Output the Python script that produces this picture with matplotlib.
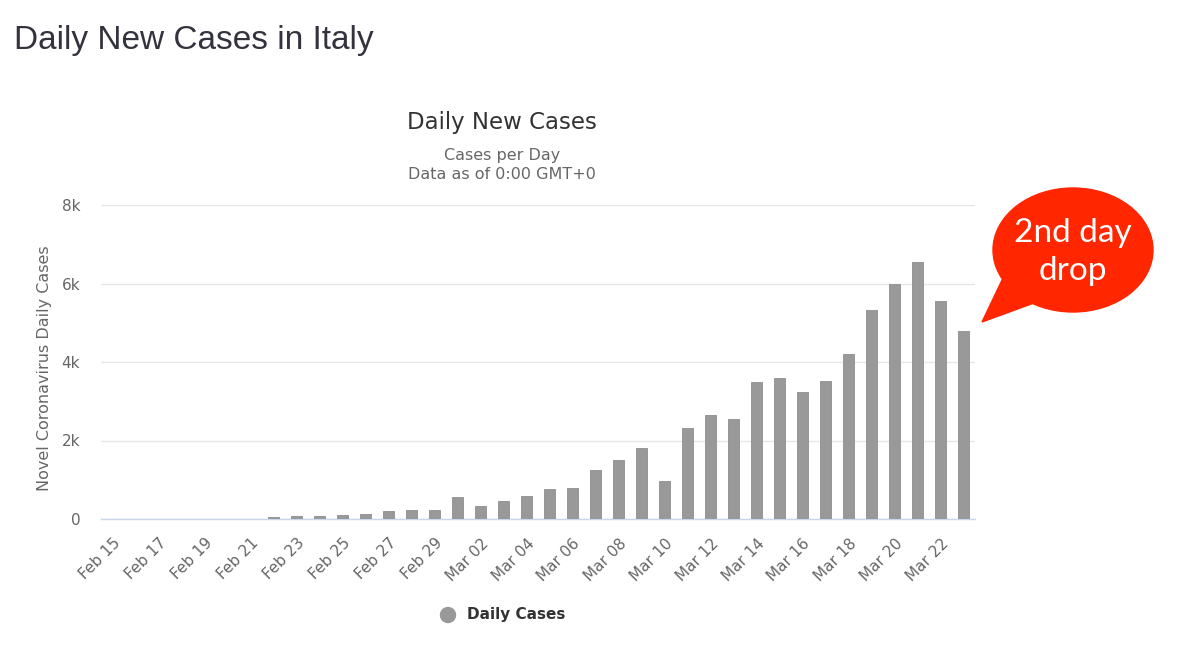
import matplotlib
matplotlib.use("Agg")
import matplotlib.pyplot as plt
import matplotlib.patches as mpatches
import numpy as np
import datetime as dt

# ---- data ----
start = dt.date(2020, 2, 15)
daily_cases = [0, 0, 0, 0, 0, 0, 0,          # Feb 15 - Feb 21
               59, 71, 79, 93, 131, 202, 233, 240,   # Feb 22 - Feb 29
               566, 342, 466, 587, 769, 778, 1247, 1492, 1797, 977,  # Mar 1 - Mar 10
               2313, 2651, 2547, 3497, 3590, 3233, 3526, 4207, 5322, 5986,  # Mar 11 - Mar 20
               6557, 5560, 4789]            # Mar 21 - Mar 23
dates = [start + dt.timedelta(days=i) for i in range(len(daily_cases))]
date_labels = [d.strftime("%b %d") for d in dates]
y_ticks = [0, 2000, 4000, 6000, 8000]
y_tick_labels = ["0", "2k", "4k", "6k", "8k"]

page_title = "Daily New Cases in Italy"
chart_title = "Daily New Cases"
subtitle = "Cases per Day\nData as of 0:00 GMT+0"
y_label = "Novel Coronavirus Daily Cases"
legend_label = "Daily Cases"
bubble_text = "2nd day\ndrop"

W, H = 1200, 645
fig = plt.figure(figsize=(W / 100, H / 100), dpi=100)
fig.patch.set_facecolor("white")

ax = fig.add_axes([101 / W, 1 - 519 / H, 874 / W, 314 / H])
x = np.arange(len(daily_cases))
ax.bar(x, daily_cases, width=0.45, color="#999999", edgecolor="#8e8e8e", linewidth=0.6, zorder=3)
ax.set_xlim(-0.5, len(daily_cases) - 0.5)
ax.set_ylim(0, 8000)
ax.set_yticks(y_ticks)
ax.set_yticklabels(y_tick_labels)
ax.grid(axis="y", color="#e6e6e6", linewidth=1, zorder=0)
for s in ["top", "right", "left"]:
    ax.spines[s].set_visible(False)
ax.spines["bottom"].set_color("#ccd6eb")
ax.spines["bottom"].set_linewidth(1)
ax.tick_params(axis="y", length=0, pad=15, labelsize=11, labelcolor="#666666")
ax.tick_params(axis="x", length=0, pad=12, labelsize=11, labelcolor="#666666")
ax.set_xticks(x[::2])
ax.set_xticklabels(date_labels[::2], rotation=45, ha="right", rotation_mode="anchor")
ax.set_ylabel(y_label, fontsize=11.5, color="#666666")
ax.yaxis.set_label_coords((52 - 101) / 874, 0.48)

# titles
fig.text(14 / W, 1 - 40 / H, page_title, fontsize=24, color="#33333d",
         family="Liberation Sans", va="center", ha="left")
fig.text(502 / W, 1 - 123 / H, chart_title, fontsize=16.5, color="#333333", ha="center", va="center")
fig.text(502 / W, 1 - 165 / H, subtitle, fontsize=11.5, color="#666666", ha="center", va="center",
         linespacing=1.3)

# legend
lax = fig.add_axes([0, 0, 1, 1], facecolor="none")
lax.set_xlim(0, W)
lax.set_ylim(H, 0)
lax.axis("off")
lax.add_patch(mpatches.Ellipse((448, 615), 15, 15, color="#999999"))
lax.text(467, 615, legend_label, fontsize=11, fontweight="bold", color="#333333", va="center", ha="left")

# speech bubble
lax.add_patch(mpatches.Ellipse((1073, 250), 160, 124, color="#ff2600", zorder=5))
lax.add_patch(mpatches.Polygon([(1003, 278), (1034, 303), (982, 322)], closed=True,
                               color="#ff2600", zorder=5))
lax.text(1073, 252, bubble_text, fontsize=24, color="white", ha="center", va="center",
         family="Lato", linespacing=1.3, zorder=6)

fig.savefig("out.png", dpi=100, facecolor="white")
